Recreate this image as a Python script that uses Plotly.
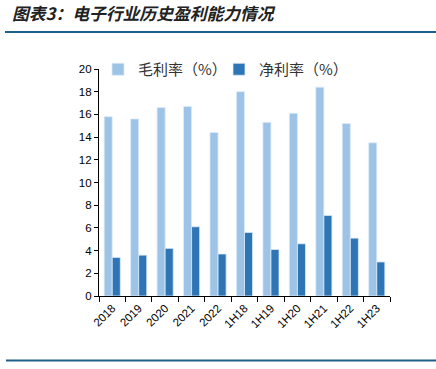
import plotly.graph_objects as go

categories = ["2018", "2019", "2020", "2021", "2022", "1H18", "1H19", "1H20", "1H21", "1H22", "1H23"]
gross_margin = [15.8, 15.6, 16.6, 16.7, 14.4, 18.0, 15.3, 16.1, 18.4, 15.2, 13.5]
net_margin = [3.4, 3.6, 4.2, 6.1, 3.7, 5.6, 4.1, 4.6, 7.1, 5.1, 3.0]
y_ticks = [0, 2, 4, 6, 8, 10, 12, 14, 16, 18, 20]

W, H = 436, 369
L, R, T, B = 99, 390, 69, 296  # plot area in pixels

def px(x):
    return (x - L) / (R - L)

def py(y):
    return (B - y) / (B - T)

FONT = "Liberation Sans, Arial, Noto Sans CJK SC, sans-serif"

fig = go.Figure()
fig.add_bar(x=categories, y=gross_margin, name="毛利率（%）",
            marker=dict(color="#9DC3E6", line=dict(width=0.8, color="#DDEBF7")))
fig.add_bar(x=categories, y=net_margin, name="净利率（%）",
            marker=dict(color="#2E75B6", line=dict(width=0.8, color="#DDEBF7")))

fig.update_layout(
    width=W, height=H, autosize=False,
    margin=dict(l=L, r=W - R, t=T, b=H - B, pad=0),
    paper_bgcolor="white", plot_bgcolor="white",
    barmode="group", bargap=0.39, bargroupgap=0,
    font=dict(family=FONT, size=11, color="#000"),
    showlegend=True,
    legend=dict(orientation="h", x=px(98), y=py(53), xanchor="left", yanchor="top",
                font=dict(size=15, color="#333", family="Noto Sans CJK SC, sans-serif"),
                itemwidth=30, entrywidth=76, entrywidthmode="pixels",
                tracegroupgap=0, bgcolor="rgba(0,0,0,0)"),
    xaxis=dict(type="category", showline=True, linecolor="#000", linewidth=1.2,
               ticks="outside", tickson="boundaries", ticklen=5, tickcolor="#000",
               tickangle=-45, tickfont=dict(size=11.5), showgrid=False),
    yaxis=dict(range=[0, 20], tickvals=y_ticks, showline=True, linecolor="#000",
               linewidth=1.2, ticks="outside", ticklen=4, tickcolor="#000",
               showgrid=False, zeroline=False, tickfont=dict(size=11.5)),
    shapes=[
        dict(type="line", xref="paper", yref="paper", x0=px(5), x1=px(436),
             y0=py(32), y1=py(32), line=dict(color="#1F5F8B", width=2)),
        dict(type="line", xref="paper", yref="paper", x0=px(6), x1=px(436),
             y0=py(360.5), y1=py(360.5), line=dict(color="#1F5F8B", width=2)),
    ],
    annotations=[
        dict(text="<b><i>图表3：电子行业历史盈利能力情况</i></b>", xref="paper", yref="paper",
             x=px(10), y=py(13), xanchor="left", yanchor="middle", showarrow=False,
             font=dict(size=16.8, color="#222", family="Noto Sans CJK SC, sans-serif")),
    ],
)

fig.write_html("out.html", config={"displayModeBar": False},
               post_script="document.body.style.margin='0';")
